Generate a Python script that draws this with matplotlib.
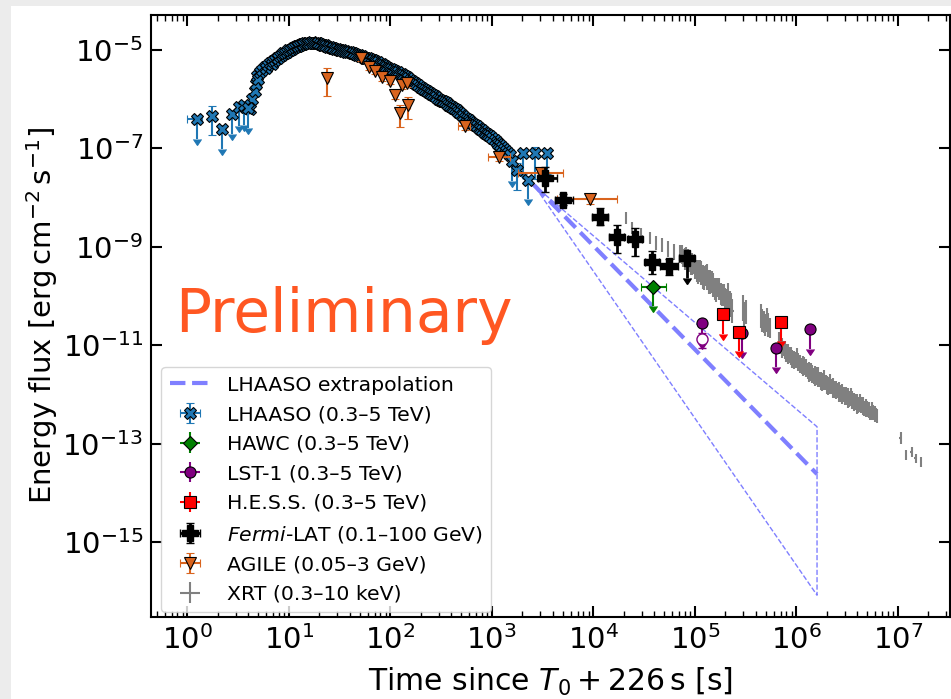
import matplotlib
matplotlib.use("Agg")
import matplotlib.pyplot as plt
import numpy as np
from matplotlib.patches import Rectangle

# ---------------- data ----------------
# LHAASO dense light curve [s], [erg cm^-2 s^-1]
lhaaso_t = [4.15, 4.35, 4.6, 4.8, 4.9, 5.0, 5.2, 5.5, 5.8, 6.0, 6.2, 6.5, 6.8, 7.0, 7.3,
            7.6, 7.9, 8.2, 8.5, 8.8, 9.1, 9.5, 9.9, 10.3, 10.7, 11.1, 11.5, 12.0, 12.4,
            12.9, 13.4, 13.9, 14.4, 15.0, 15.6, 16.2, 16.8, 17.5, 18.1, 18.8, 19.5,
            20.3, 21.1, 21.9, 22.7, 23.5, 24.5, 25.5, 26.4, 27.4, 28.7, 30.0, 31.0,
            32.0, 33.1, 34.2, 35.5, 37.0, 38.5, 40.0, 41.6, 43.2, 45.0, 47.0, 48.7,
            50.5, 52.3, 54.2, 56.0, 58.0, 60.5, 63.0, 65.5, 68.0, 70.5, 73.0, 76.0,
            79.0, 82.0, 85.0, 88.0, 91.0, 94.5, 98.0, 102, 107, 111, 115, 119, 124,
            129, 134, 139, 145, 150, 156, 162, 168, 174, 181, 188, 196, 203, 211, 219,
            228, 236, 245, 254, 263, 274, 285, 296, 308, 320, 333, 346, 360, 374, 388,
            403, 418, 434, 451, 469, 487, 506, 525, 546, 567, 590, 612, 636, 660, 686,
            712, 740, 770, 800, 830, 860, 891, 925, 960, 1015, 1075, 1115, 1160, 1205,
            1250, 1310, 1380, 1440, 1510]
lhaaso_f = [6.3e-7, 1.0e-6, 1.5e-6, 2.0e-6, 3.0e-6, 2.6e-6, 3.6e-6, 4.0e-6, 4.6e-6,
            4.4e-6, 4.9e-6, 5.4e-6, 5.3e-6, 6.0e-6, 6.2e-6, 6.8e-6, 7.0e-6, 7.6e-6,
            7.9e-6, 8.6e-6, 8.8e-6, 9.3e-6, 9.8e-6, 1.0e-5, 1.07e-5, 1.1e-5, 1.16e-5,
            1.2e-5, 1.22e-5, 1.26e-5, 1.31e-5, 1.32e-5, 1.36e-5, 1.37e-5, 1.41e-5,
            1.4e-5, 1.43e-5, 1.42e-5, 1.39e-5, 1.37e-5, 1.36e-5, 1.33e-5, 1.28e-5,
            1.26e-5, 1.25e-5, 1.22e-5, 1.17e-5, 1.15e-5, 1.12e-5, 1.08e-5, 1.07e-5,
            1.04e-5, 1.01e-5, 9.9e-6, 9.9e-6, 9.7e-6, 9.4e-6, 9.3e-6, 9.2e-6, 8.9e-6,
            8.8e-6, 8.6e-6, 8.2e-6, 8.0e-6, 7.9e-6, 7.6e-6, 7.5e-6, 7.3e-6, 7.0e-6,
            6.9e-6, 6.8e-6, 6.6e-6, 6.4e-6, 6.3e-6, 6.0e-6, 5.8e-6, 5.6e-6, 5.3e-6,
            5.2e-6, 4.95e-6, 4.7e-6, 4.6e-6, 4.4e-6, 4.2e-6, 4.1e-6, 3.9e-6, 3.7e-6,
            3.6e-6, 3.5e-6, 3.3e-6, 3.2e-6, 3.1e-6, 2.9e-6, 2.86e-6, 2.7e-6, 2.5e-6,
            2.35e-6, 2.2e-6, 2.1e-6, 2.0e-6, 1.9e-6, 1.8e-6, 1.7e-6, 1.6e-6, 1.52e-6,
            1.45e-6, 1.4e-6, 1.32e-6, 1.26e-6, 1.22e-6, 1.15e-6, 1.1e-6, 1.03e-6,
            9.8e-7, 9.4e-7, 9.0e-7, 8.7e-7, 8.3e-7, 7.8e-7, 7.4e-7, 7.0e-7, 6.6e-7,
            6.3e-7, 5.9e-7, 5.5e-7, 5.2e-7, 4.8e-7, 4.5e-7, 4.2e-7, 3.9e-7, 3.7e-7,
            3.5e-7, 3.3e-7, 3.1e-7, 2.95e-7, 2.8e-7, 2.6e-7, 2.5e-7, 2.35e-7, 2.2e-7,
            2.1e-7, 2.0e-7, 1.9e-7, 1.8e-7, 1.6e-7, 1.48e-7, 1.35e-7, 1.25e-7, 1.17e-7,
            1.08e-7, 9.8e-8, 9.0e-8, 8.2e-8, 7.3e-8]
# LHAASO measured points with error bars
lhaaso_m_t = [1.74, 1760, 2670]
lhaaso_m_f = [4.6e-7, 3.6e-8, 7.9e-8]
lhaaso_m_xlo = [0.12, 90, 130]
lhaaso_m_xhi = [0.12, 90, 130]
lhaaso_m_ylo = [2.7e-7, 2.2e-8, 5.5e-8]
lhaaso_m_yhi = [2.7e-7, 1.5e-8, 3.0e-8]
# LHAASO upper limits
lhaaso_ul_t = [1.24, 2.18, 2.74, 3.25, 3.6, 4.0, 1570, 2040, 2290, 3470]
lhaaso_ul_f = [3.9e-7, 2.45e-7, 4.9e-7, 7.0e-7, 7.5e-7, 6.5e-7, 5.5e-8, 8.0e-8, 2.3e-8, 7.9e-8]
lhaaso_ul_xlo = [0.24, 0, 0, 0, 0, 0, 0, 0, 0, 0]
lhaaso_ul_xhi = [0.16, 0, 0, 0, 0, 0, 0, 0, 0, 0]

# HAWC upper limit
hawc_t = [39000]
hawc_f = [1.55e-10]
hawc_xlo = [9700]
hawc_xhi = [13000]

# LST-1
lst_ul_t = [118600, 290000, 631000, 1365000]
lst_ul_f = [2.78e-11, 1.8e-11, 8.9e-12, 2.1e-11]
lst_m_t = [118600]
lst_m_f = [1.32e-11]
lst_m_ylo = [4.5e-12]
lst_m_yhi = [4.5e-12]

# H.E.S.S. upper limits
hess_t = [191000, 274000, 706000]
hess_f = [4.3e-11, 1.88e-11, 3.0e-11]

# Fermi-LAT
fermi_t = [3340, 5060, 11650, 17000, 25800, 37600, 56000]
fermi_f = [2.47e-8, 8.9e-9, 4.1e-9, 1.6e-9, 1.42e-9, 5.0e-10, 4.07e-10]
fermi_xlo = [480, 860, 2010, 2800, 3800, 5600, 10600]
fermi_xhi = [1025, 1290, 2410, 3200, 4700, 6400, 12900]
fermi_ylo = [1.15e-8, 1.9e-9, 1.3e-9, 8.6e-10, 7.6e-10, 2.2e-10, 1.4e-10]
fermi_yhi = [1.78e-8, 2.7e-9, 2.0e-9, 1.2e-9, 1.0e-9, 3.2e-10, 1.7e-10]
fermi_ul_t = [83000]
fermi_ul_f = [5.8e-10]
fermi_ul_xlo = [13500]
fermi_ul_xhi = [16000]

# AGILE
agile_t = [24, 52, 62, 71, 82, 99, 111, 129, 145, 125, 150, 545, 1178, 3030, 9270]
agile_f = [2.66e-6, 6.8e-6, 4.6e-6, 3.8e-6, 2.8e-6, 2.38e-6, 1.22e-6, 1.95e-6, 2.1e-6,
           5.2e-7, 7.6e-7, 2.85e-7, 6.8e-8, 3.2e-8, 9.4e-9]
agile_xlo = [1, 2, 2, 2, 3, 3, 3, 4, 4, 4, 5, 77, 253, 1205, 4910]
agile_xhi = [1, 2, 2, 2, 3, 3, 3, 4, 4, 4, 5, 65, 332, 2030, 7730]
agile_ylo = [1.5e-6, 8e-7, 6e-7, 5e-7, 4e-7, 3e-7, 2e-7, 3e-7, 3e-7, 2.5e-7, 3.6e-7,
             5e-8, 1.2e-8, 8e-9, 2.0e-9]
agile_yhi = [1.6e-6, 8e-7, 6e-7, 5e-7, 4e-7, 3e-7, 2e-7, 3e-7, 3e-7, 2.4e-7, 3.6e-7,
             5e-8, 1.5e-8, 1.0e-8, 2.2e-9]

# Swift-XRT: time, flux, half-width of the error bar in dex
xrt_t = [21000, 24100, 29500, 36200, 41500, 47600, 54500, 62400, 71500, 76600, 82000,
         87700, 93900, 100500, 107600, 115100, 123300, 131900, 141200, 151100, 161800,
         173100, 185400, 198400, 212300, 227300, 298300, 319300, 448500, 480000,
         514000, 550000, 675000, 722000, 773000, 827000, 886000, 948000, 1.015e6,
         1.087e6, 1.163e6, 1.245e6, 1.333e6, 1.427e6, 1.527e6, 1.634e6, 1.75e6,
         1.873e6, 2.005e6, 2.146e6, 2.297e6, 2.459e6, 2.632e6, 2.817e6, 3.015e6,
         3.227e6, 3.454e6, 3.697e6, 3.957e6, 4.236e6, 4.534e6, 4.853e6, 5.194e6,
         5.56e6, 5.95e6, 6.23e6, 1.07e7, 1.2e7, 1.37e7, 1.5e7, 1.69e7,
         74000, 79300, 84800, 90800, 97100, 104000, 111300, 119100, 127500, 136500,
         146100, 156400, 167300, 179100, 191800, 205200, 219700,
         235000, 308000, 464000, 497000, 532000,
         698000, 747000, 800000, 857000, 917000, 981000, 1.05e6, 1.125e6, 1.204e6,
         1.289e6, 1.38e6, 1.477e6, 1.58e6, 1.69e6, 1.81e6, 1.94e6, 2.075e6, 2.22e6,
         2.38e6, 2.545e6, 2.72e6, 2.915e6, 3.12e6, 3.34e6, 3.575e6, 3.826e6, 4.094e6,
         4.383e6, 4.69e6, 5.02e6, 5.375e6, 5.75e6, 6.09e6]
xrt_f = [3.85e-9, 2.41e-9, 1.82e-9, 1.51e-9, 1.19e-9, 1.09e-9, 9.0e-10, 7.8e-10,
         7.1e-10, 5.9e-10, 6.2e-10, 4.9e-10, 4.5e-10, 3.7e-10, 3.08e-10, 2.93e-10,
         2.32e-10, 2.43e-10, 1.93e-10, 1.67e-10, 1.32e-10, 1.39e-10, 1.05e-10, 8.3e-11,
         1.0e-10, 6.6e-11, 5.7e-11, 4.7e-11, 3.9e-11, 2.96e-11, 3.25e-11, 2.24e-11,
         1.16e-11, 8.8e-12, 8.0e-12, 6.6e-12, 6.0e-12, 5.0e-12, 5.5e-12, 4.15e-12,
         3.78e-12, 3.44e-12, 2.85e-12, 2.6e-12, 2.37e-12, 2.26e-12, 1.87e-12, 1.96e-12,
         1.55e-12, 1.63e-12, 1.35e-12, 1.23e-12, 1.12e-12, 1.02e-12, 9.3e-13, 8.5e-13,
         8.9e-13, 7.0e-13, 6.4e-13, 6.7e-13, 5.8e-13, 5.3e-13, 4.8e-13, 4.6e-13,
         4.0e-13, 3.64e-13, 1.3e-13, 5.9e-14, 6.8e-14, 5.0e-14, 4.3e-14,
         7.0e-10, 5.6e-10, 5.8e-10, 4.4e-10, 4.4e-10, 3.2e-10, 3.2e-10, 2.4e-10,
         2.6e-10, 1.9e-10, 1.95e-10, 1.4e-10, 1.5e-10, 1.1e-10, 1.05e-10, 8.0e-11,
         7.5e-11,
         5.0e-11, 4.2e-11, 3.2e-11, 2.6e-11, 2.6e-11,
         1.0e-11, 8.6e-12, 7.0e-12, 6.4e-12, 5.3e-12, 5.0e-12, 4.6e-12, 3.8e-12,
         3.8e-12, 3.0e-12, 2.9e-12, 2.4e-12, 2.4e-12, 2.0e-12, 1.8e-12, 1.75e-12,
         1.5e-12, 1.45e-12, 1.25e-12, 1.2e-12, 1.05e-12, 1.0e-12, 9.2e-13, 8.0e-13,
         7.6e-13, 7.0e-13, 6.1e-13, 6.0e-13, 5.2e-13, 5.0e-13, 4.2e-13, 4.3e-13, 3.8e-13]
xrt_dex = [0.12, 0.12, 0.12, 0.12, 0.14, 0.14, 0.16, 0.16, 0.18, 0.18, 0.2, 0.2, 0.22,
           0.22, 0.24, 0.24, 0.24, 0.26, 0.24, 0.24, 0.24, 0.22, 0.22, 0.24, 0.26,
           0.24, 0.26, 0.24, 0.24, 0.22, 0.24, 0.2, 0.2, 0.2, 0.18, 0.2, 0.18, 0.18,
           0.2, 0.18, 0.2, 0.18, 0.2, 0.18, 0.2, 0.2, 0.18, 0.2, 0.18, 0.2, 0.2, 0.18,
           0.2, 0.2, 0.18, 0.2, 0.18, 0.18, 0.2, 0.18, 0.18, 0.18, 0.16, 0.18, 0.16,
           0.14, 0.12, 0.1, 0.1, 0.1, 0.1,
           0.2, 0.22, 0.2, 0.22, 0.2, 0.22, 0.22, 0.24, 0.22, 0.24, 0.22, 0.22, 0.2,
           0.22, 0.22, 0.24, 0.22,
           0.24, 0.26, 0.24, 0.22, 0.24,
           0.18, 0.16, 0.18, 0.16, 0.18, 0.16, 0.18, 0.16, 0.18, 0.16, 0.18, 0.16,
           0.18, 0.16, 0.18, 0.16, 0.18, 0.16, 0.18, 0.16, 0.18, 0.16, 0.18, 0.16,
           0.18, 0.16, 0.16, 0.16, 0.16, 0.16, 0.14, 0.16, 0.14]

# LHAASO extrapolation (butterfly)
ext_t = [2600, 1.6e6]
ext_mid = [1.8e-8, 2.4e-14]
ext_up = [1.8e-8, 2.2e-13]
ext_lo = [1.8e-8, 8.3e-17]

# ---------------- plot ----------------
plt.rcParams['font.family'] = ['DejaVu Sans']
plt.rcParams['mathtext.fontset'] = 'dejavusans'

fig = plt.figure(figsize=(9.51, 6.99), dpi=100)
fig.patch.set_facecolor('#ececec')
fig.patches.append(Rectangle((11 / 951, 0), 1, 1 - 6 / 699, transform=fig.transFigure,
                             facecolor='white', edgecolor='none', zorder=-10))
ax = fig.add_axes([0.1593, 0.1173, 0.8397, 0.8612])

c_ext = '#7f7fff'
ax.plot(ext_t, ext_mid, ls='--', lw=3, color=c_ext, label='LHAASO extrapolation', zorder=1)
ax.plot([ext_t[0], ext_t[1], ext_t[1], ext_t[0]],
        [ext_up[0], ext_up[1], ext_lo[1], ext_lo[0]], ls='--', lw=1, color=c_ext, zorder=1)

# XRT
xrt_t = np.array(xrt_t)
xrt_f = np.array(xrt_f)
d = np.array(xrt_dex)
xrt_yerr = [xrt_f * (1 - 10 ** -d), xrt_f * (10 ** d - 1)]
ax.errorbar(xrt_t, xrt_f, yerr=xrt_yerr, xerr=0.03 * xrt_t, fmt='none', ecolor='grey',
            elinewidth=1.5, label='XRT (0.3–10 keV)', zorder=2)

# LHAASO
c_lh = '#1f77b4'
lh_kw = dict(fmt='X', color=c_lh, mfc=c_lh, mec='k', mew=0.8, ms=9, capsize=3, elinewidth=1.5)
ax.plot(lhaaso_t, lhaaso_f, 'X', color=c_lh, mec='k', mew=0.8, ms=9, ls='none', zorder=4)
ax.errorbar(lhaaso_m_t, lhaaso_m_f, xerr=[lhaaso_m_xlo, lhaaso_m_xhi],
            yerr=[lhaaso_m_ylo, lhaaso_m_yhi], label='LHAASO (0.3–5 TeV)', zorder=4, **lh_kw)
ul = np.array(lhaaso_ul_f)
ax.errorbar(lhaaso_ul_t, ul, xerr=[lhaaso_ul_xlo, lhaaso_ul_xhi], yerr=0.6 * ul, uplims=True,
            zorder=4, **lh_kw)

# HAWC
hawc_f = np.array(hawc_f)
ax.errorbar(hawc_t, hawc_f, xerr=[hawc_xlo, hawc_xhi], yerr=0.6 * hawc_f, uplims=True,
            fmt='D', color='green', mec='k', mew=0.8, ms=7, capsize=3, elinewidth=1.5, zorder=5)
ax.errorbar([], [], xerr=[], yerr=[], fmt='D', color='green', mec='k', mew=0.8, ms=7,
            capsize=3, label='HAWC (0.3–5 TeV)')

# LST-1
c_lst = 'purple'
lst_ul_f = np.array(lst_ul_f)
ax.errorbar(lst_ul_t, lst_ul_f, yerr=0.6 * lst_ul_f, uplims=True, fmt='o', color=c_lst,
            mec='k', mew=0.8, ms=8, capsize=3, elinewidth=1.5, zorder=5)
ax.errorbar(lst_m_t, lst_m_f, yerr=[lst_m_ylo, lst_m_yhi], fmt='o', color=c_lst, mfc='white',
            mec=c_lst, ms=8, capsize=3, elinewidth=1.2, zorder=5)
ax.errorbar([], [], xerr=[], yerr=[], fmt='o', color=c_lst, mec='k', mew=0.8, ms=8,
            capsize=3, label='LST-1 (0.3–5 TeV)')

# H.E.S.S.
hess_f = np.array(hess_f)
ax.errorbar(hess_t, hess_f, yerr=0.6 * hess_f, uplims=True, fmt='s', color='red', mec='k',
            mew=0.8, ms=8, capsize=3, elinewidth=1.5, zorder=5)
ax.errorbar([], [], xerr=[], yerr=[], fmt='s', color='red', mec='k', mew=0.8, ms=8,
            capsize=3, label='H.E.S.S. (0.3–5 TeV)')

# Fermi-LAT
fm_kw = dict(fmt='P', color='k', ms=11, capsize=3, elinewidth=2)
ax.errorbar(fermi_t, fermi_f, xerr=[fermi_xlo, fermi_xhi], yerr=[fermi_ylo, fermi_yhi],
            label=r'$\it{Fermi}$-LAT (0.1–100 GeV)', zorder=6, **fm_kw)
fermi_ul_f = np.array(fermi_ul_f)
ax.errorbar(fermi_ul_t, fermi_ul_f, xerr=[fermi_ul_xlo, fermi_ul_xhi], yerr=0.6 * fermi_ul_f,
            uplims=True, zorder=6, **fm_kw)

# AGILE
c_ag = '#d9641e'
ax.errorbar(agile_t, agile_f, xerr=[agile_xlo, agile_xhi], yerr=[agile_ylo, agile_yhi],
            fmt='v', color=c_ag, mec='k', mew=0.8, ms=9, capsize=3, elinewidth=1.5,
            label='AGILE (0.05–3 GeV)', zorder=5)

ax.text(0.029, 0.473, 'Preliminary', transform=ax.transAxes, fontsize=43,
        color='#ff5722', va='baseline', ha='left')

ax.set_xscale('log')
ax.set_yscale('log')
ax.set_xlim(0.444, 3.27e7)
ax.set_ylim(2.99e-17, 5.14e-5)
ax.set_xticks([10.0 ** k for k in range(0, 8)])
ax.xaxis.set_minor_locator(matplotlib.ticker.LogLocator(base=10, subs=np.arange(2, 10), numticks=30))
ax.set_yticks([10.0 ** k for k in range(-15, -4, 2)])
ax.yaxis.set_minor_locator(matplotlib.ticker.NullLocator())
ax.tick_params(which='both', direction='in', top=True, right=True, labelsize=21)
ax.tick_params(which='major', length=8, width=1.5, pad=6)
ax.tick_params(which='minor', length=4, width=1)
for s in ax.spines.values():
    s.set_linewidth(1.5)
ax.set_xlabel(r'Time since $T_0 + 226\,\mathrm{s}$ [s]', fontsize=21.5, labelpad=8)
ax.set_ylabel(r'Energy flux [$\mathrm{erg\,cm^{-2}\,s^{-1}}$]', fontsize=21, labelpad=2)

h, l = ax.get_legend_handles_labels()
order = ['LHAASO extrapolation', 'LHAASO (0.3–5 TeV)', 'HAWC (0.3–5 TeV)', 'LST-1 (0.3–5 TeV)',
         'H.E.S.S. (0.3–5 TeV)', r'$\it{Fermi}$-LAT (0.1–100 GeV)', 'AGILE (0.05–3 GeV)',
         'XRT (0.3–10 keV)']
hd = dict(zip(l, h))
ax.legend([hd[k] for k in order], order, loc='lower left', fontsize=14.7,
          labelspacing=0.52, handletextpad=0.8, borderpad=0.4, borderaxespad=0,
          bbox_to_anchor=(0.0125, 0.0083))

fig.savefig('out.png', dpi=100)
